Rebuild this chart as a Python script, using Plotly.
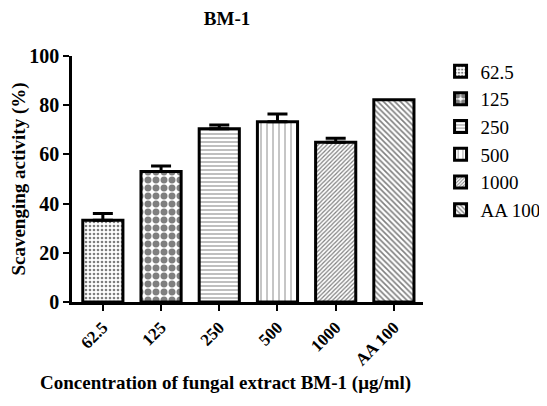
import plotly.graph_objects as go

categories = ["62.5", "125", "250", "500", "1000", "AA 100"]
values = [33.2, 53.0, 70.4, 73.3, 64.9, 82.2]
errors = [2.8, 2.3, 1.6, 3.1, 1.7, 0]
patterns = [".", ".", "-", "|", "/", "\\"]
pattern_sizes = [4, 8, 4, 6, 3, 4]
pattern_solidity = [0.35, 0.6, 0.25, 0.15, 0.4, 0.4]
y_ticks = [0, 20, 40, 60, 80, 100]

SERIF = "Liberation Serif, Times New Roman, serif"
OFF = 8  # browser default body margin

fig = go.Figure()
for i, c in enumerate(categories):
    err = dict(type="data", array=[errors[i]], arrayminus=[0], symmetric=False,
               visible=errors[i] > 0, color="black", thickness=3, width=10)
    fig.add_trace(go.Bar(
        x=[c], y=[values[i]], name=c,
        marker=dict(color="white",
                    line=dict(color="black", width=3),
                    pattern=dict(shape=patterns[i], size=pattern_sizes[i],
                                 solidity=pattern_solidity[i],
                                 fgcolor="black", bgcolor="white")),
        error_y=err, width=0.69,
    ))

fig.update_layout(
    width=547, height=406,
    margin=dict(l=72 - OFF, r=124 + OFF, t=56 - OFF, b=104 + OFF, autoexpand=False),
    paper_bgcolor="white", plot_bgcolor="white",
    barmode="overlay",
    font=dict(family=SERIF, color="black"),
    title=dict(text="<b>BM-1</b>", x=(227 - OFF) / 547, xanchor="center",
               y=1 - 4 / 406, yanchor="top",
               font=dict(size=19, family=SERIF)),
    showlegend=True,
    legend=dict(x=1.05, y=1.015, xanchor="left", yanchor="top",
                font=dict(size=19, family=SERIF), tracegroupgap=0,
                itemwidth=30, bgcolor="rgba(0,0,0,0)"),
)

fig.update_xaxes(
    type="category", categoryorder="array", categoryarray=categories,
    range=[-0.53, 5.5],
    showline=True, linecolor="black", linewidth=2.5,
    ticks="outside", ticklen=6, tickwidth=2, tickcolor="black",
    tickangle=-45, tickfont=dict(size=17, family=SERIF, weight="bold"),
    showgrid=False, zeroline=False,
)
fig.update_yaxes(
    range=[0, 100], tickvals=y_ticks,
    showline=True, linecolor="black", linewidth=2.5,
    ticks="outside", ticklen=6, tickwidth=2, tickcolor="black",
    tickfont=dict(size=20, family=SERIF, weight="bold"),
    showgrid=False, zeroline=False,
    title=dict(text="<b>Scavenging activity (%)</b>",
               font=dict(size=19, family=SERIF), standoff=8),
)

fig.add_annotation(
    text="<b>Concentration of fungal extract BM-1 (μg/ml)</b>",
    xref="paper", yref="paper", x=(225 - 72) / 351, y=-(383 - 302) / 246,
    xanchor="center", yanchor="middle", showarrow=False,
    font=dict(size=19, family=SERIF),
)

fig.write_html("out.html")
